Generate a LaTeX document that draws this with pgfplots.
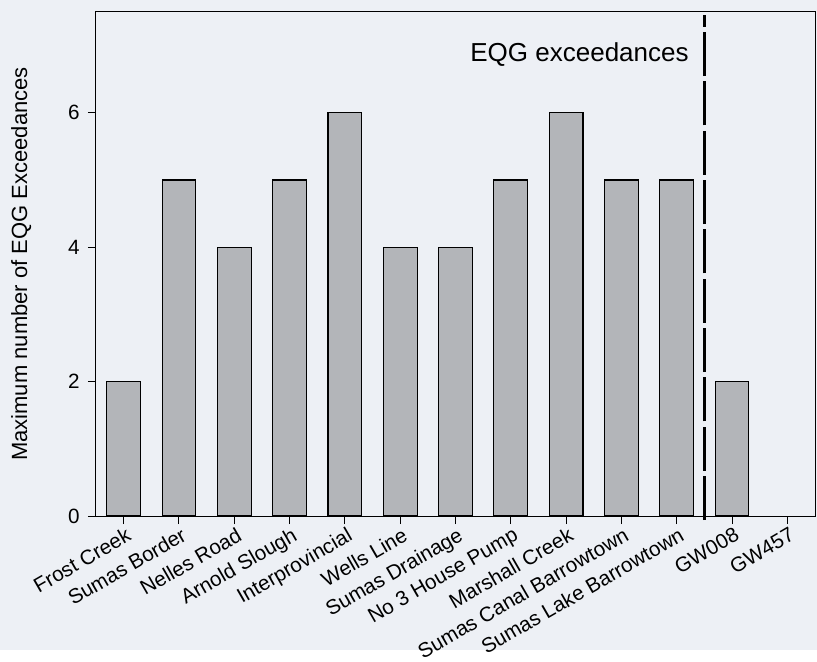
\documentclass[border=0pt]{standalone}
\usepackage{pgfplots}
\pgfplotsset{compat=1.18}
\usepackage{fontspec}
\setmainfont{Liberation Sans}
\usetikzlibrary{backgrounds}
\definecolor{bg}{HTML}{EDF0F5}
\definecolor{barfill}{HTML}{B3B5B9}
\begin{document}
\begin{tikzpicture}
\begin{axis}[
  at={(0,0)}, anchor=south west,
  scale only axis, width=539.25pt, height=378pt,
  xmin=-0.5, xmax=12.5, ymin=0, ymax=7.5,
  axis background/.style={fill=bg},
  ybar, bar width=0.61,
  xtick={0,...,12},
  xticklabels={Frost Creek,Sumas Border,Nelles Road,Arnold Slough,Interprovincial,Wells Line,Sumas Drainage,No 3 House Pump,Marshall Creek,Sumas Canal Barrowtown,Sumas Lake Barrowtown,GW008,GW457},
  ytick={0,2,4,6},
  tick align=outside, major tick length=6pt,
  xtick pos=bottom, ytick pos=left,
  axis line style={line width=0.75pt},
  every tick/.style={black, line width=0.75pt},
  /pgf/number format/assume math mode=true,
  ticklabel style={font=\fontsize{15.5}{18}\selectfont},
  xticklabel style={rotate=30, anchor=north east, inner sep=1pt, xshift=1pt, yshift=-1pt},
  yticklabel style={inner sep=2pt, xshift=-4pt},
  ylabel={Maximum number of EQG Exceedances},
  every axis y label/.style={at={(axis description cs:0,0.5)}, xshift=-56pt, rotate=90, anchor=center, font=\fontsize{16.5}{20}\selectfont},
  clip=false,
]
\addplot[fill=barfill, draw=black, line width=0.8pt] coordinates {
(0,2) (1,5) (2,4) (3,5) (4,6) (5,4) (6,4) (7,5) (8,6) (9,5) (10,5) (11,2)
};
\draw[line width=2pt, dash pattern=on 33pt off 4pt] (axis cs:10.5,-0.06) -- (axis cs:10.5,7.45);
\node[anchor=east, inner sep=0pt, font=\fontsize{19.5}{23}\selectfont] at (axis cs:10.22,6.87) {EQG exceedances};
\end{axis}
\begin{scope}[on background layer]
\fill[bg] (-72pt,-100.5pt) rectangle (540.75pt,387pt);
\end{scope}
\end{tikzpicture}
\end{document}
